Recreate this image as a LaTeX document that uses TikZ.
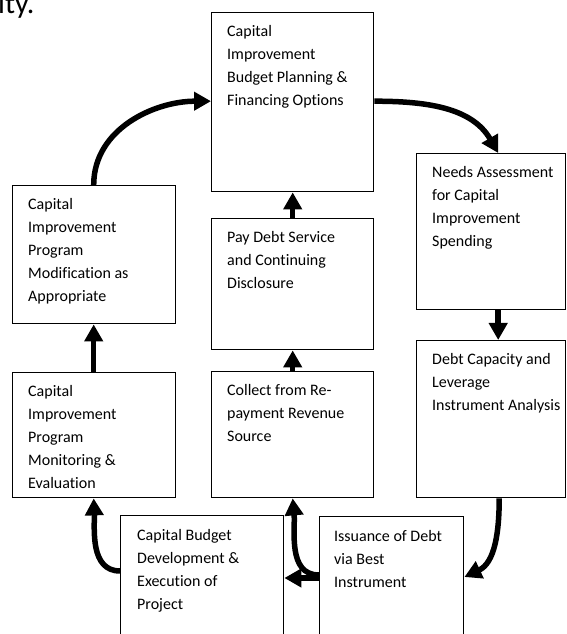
\documentclass[tikz,border=0pt]{standalone}
\usepackage{fontspec}
\setmainfont[Ligatures=NoCommon]{Carlito}
\usetikzlibrary{arrows.meta,calc}
\tikzset{
  box/.style={draw=black, line width=1.4pt, rectangle, anchor=north west, inner sep=0pt},
  txt/.style={anchor=north west, inner sep=0pt, align=left, font=\fontsize{16}{23.2}\selectfont},
  flow/.style={line width=5.5pt, -{Triangle[length=17pt,width=18pt]}},
}
\newcommand{\fl}{\rule{0pt}{13pt}}
\begin{document}
\begin{tikzpicture}[x=1pt,y=1pt]
\useasboundingbox (0,0) rectangle (567,634);
\clip (0,0) rectangle (567,634);
% boxes (top-left corner, size)
\node[box, minimum width=162pt, minimum height=179pt] (T) at (211,622) {};
\node[box, minimum width=149pt, minimum height=156pt] (N) at (416,481) {};
\node[box, minimum width=149pt, minimum height=157pt] (D) at (416,294) {};
\node[box, minimum width=144pt, minimum height=200pt] (I) at (319,118) {};
\node[box, minimum width=163pt, minimum height=200pt] (C) at (120,119) {};
\node[box, minimum width=162pt, minimum height=126pt] (R) at (211,263) {};
\node[box, minimum width=162pt, minimum height=131pt] (P) at (211,416) {};
\node[box, minimum width=163pt, minimum height=125pt] (M) at (12,262) {};
\node[box, minimum width=163pt, minimum height=138pt] (O) at (12,449) {};
% texts
\node[txt] (Tt) at ($(T.north west)+(16,-11)$) {\fl Capital\\Improvement\\Budget Planning \&\\Financing Options};
\node[txt] (Nt) at ($(N.north west)+(16,-11)$) {\fl Needs Assessment\\for Capital\\Improvement\\Spending};
\node[txt] (Dt) at ($(D.north west)+(16,-11)$) {\fl Debt Capacity and\\Leverage\\Instrument Analysis};
\node[txt] (It) at ($(I.north west)+(15,-12)$) {\fl Issuance of Debt\\via Best\\Instrument};
\node[txt] (Ct) at ($(C.north west)+(17,-12)$) {\fl Capital Budget\\Development \&\\Execution of\\Project};
\node[txt] (Rt) at ($(R.north west)+(16,-11)$) {\fl Collect from Re-\\payment Revenue\\Source};
\node[txt] (Pt) at ($(P.north west)+(16,-11)$) {\fl Pay Debt Service\\and Continuing\\Disclosure};
\node[txt] (Mt) at ($(M.north west)+(16,-11)$) {\fl Capital\\Improvement\\Program\\Monitoring \&\\Evaluation};
\node[txt] (Ot) at ($(O.north west)+(16,-11)$) {\fl Capital\\Improvement\\Program\\Modification as\\Appropriate};
% stray text fragment (cut off at the top, as in the source)
\node[anchor=base west, inner sep=0pt, font=\fontsize{30}{32}\selectfont] (frag) at (-2,620) {ity.};
% connectors
\draw[flow] ($(T.east)+(0,1)$) to[out=0,in=120] ($(N.north)+(7,0)$);
\draw[flow] ($(N.south)+(7,0)$) -- ($(D.north)+(7,0)$);
\draw[flow] ($(D.south)+(8,0)$) to[out=-90,in=25] ($(I.north east)+(0,-61)$);
\draw[flow] ($(I.north west)+(0,-62)$) -- ($(C.north east)+(0,-63)$);
\draw[flow] ($(I.north west)+(0,-59)$) to[out=180,in=-85] ($(R.south)+(0,0)$);
\draw[flow] ($(C.north west)+(0,-56)$) to[out=180,in=-88] ($(M.south)+(-0.5,0)$);
\draw[flow] ($(M.north)+(-0.5,0)$) -- ($(O.south)+(-0.5,0)$);
\draw[flow] ($(O.north)+(-0.5,0)$) to[out=90,in=180] ($(T.west)+(0,1)$);
\draw[flow] (R.north) -- (P.south);
\draw[flow] (P.north) -- (T.south);
\end{tikzpicture}
\end{document}
